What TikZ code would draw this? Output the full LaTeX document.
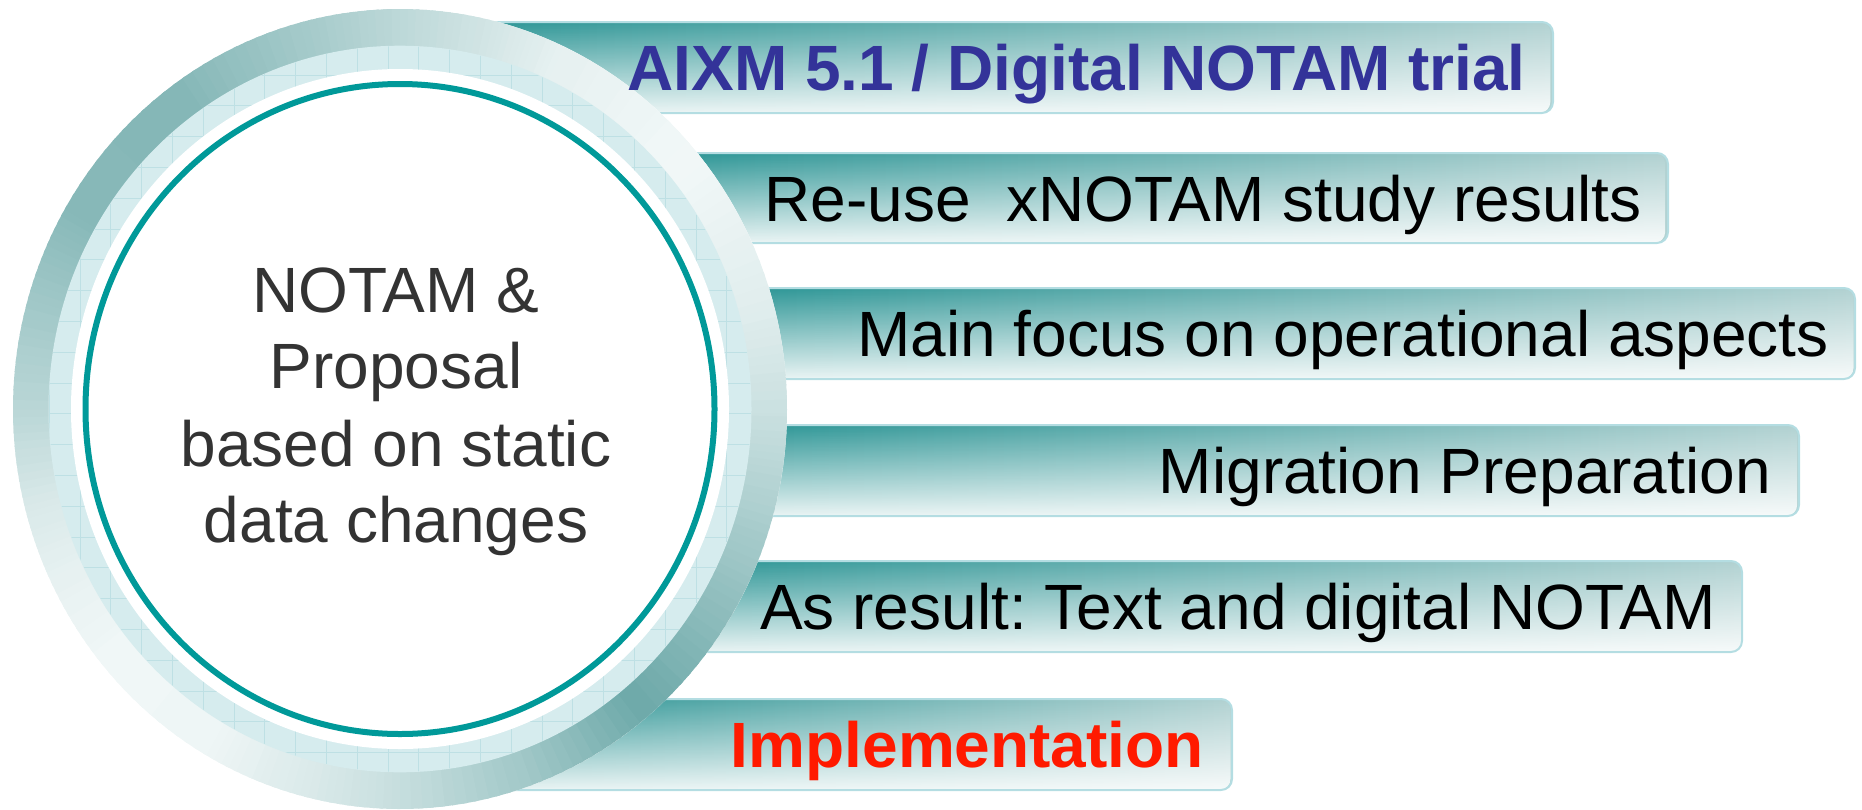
\documentclass[tikz,border=0pt]{standalone}
\usepackage{fontspec}
\setmainfont{Liberation Sans}
\usetikzlibrary{fadings}
\frenchspacing

\definecolor{ringdark}{RGB}{104,166,166}
\definecolor{ringlight}{RGB}{244,249,249}
\definecolor{bandcol}{RGB}{214,236,238}
\definecolor{gridcol}{RGB}{190,224,228}
\definecolor{tealline}{RGB}{0,153,153}
\definecolor{barL}{RGB}{45,150,150}
\definecolor{barR}{RGB}{178,210,210}
\definecolor{baredge}{RGB}{180,221,226}
\definecolor{navytext}{RGB}{51,51,153}
\definecolor{redtext}{RGB}{255,26,0}
\definecolor{greytext}{RGB}{51,51,51}

% one rounded label bar: left, top, right, bottom
\newcommand\pillbar[4]{%
  \fill[rounded corners=11pt, left color=barL, right color=barR] (#1,#2) rectangle (#3,#4);
  \fill[rounded corners=11pt, white, fill opacity=0.9, path fading=north] (#1,#2) rectangle (#3,#4);
  \draw[rounded corners=11pt, baredge, line width=2pt] (#1,#2) rectangle (#3,#4);
}

\begin{document}
\begin{tikzpicture}[x=1pt,y=-1pt,
  bartext/.style={anchor=base east, inner sep=0pt, font=\fontsize{64}{64}\selectfont},
  boldtext/.style={anchor=base east, inner sep=0pt, font=\fontsize{64}{64}\selectfont\bfseries},
  ctext/.style={anchor=base, inner sep=0pt, text=greytext, font=\fontsize{64}{64}\selectfont}]
\useasboundingbox (0,0) rectangle (1862,809);

% label bars (their left ends disappear behind the ring)
\pillbar{480}{22}{1553}{113}
\pillbar{680}{153}{1668}{243}
\pillbar{750}{288}{1855}{379}
\pillbar{750}{425}{1799}{516}
\pillbar{690}{561}{1742}{652}
\pillbar{500}{699}{1232}{790}

% disc underlay
\fill[white] (400,409) ellipse[x radius=387, y radius=400];

% metallic outer ring: tone keyed by angle, interpolated over small sectors
\begin{scope}[shift={(400,409)}]
\foreach \ta/\da/\tb/\db in {0/0.30/13/0.48, 13/0.48/29/0.70, 29/0.70/50/0.97,
    50/0.97/70/0.60, 70/0.60/90/0.33, 90/0.33/105/0.18, 105/0.18/120/0.05,
    120/0.05/140/0.03, 140/0.03/155/0.10, 155/0.10/166/0.20, 166/0.20/180/0.42,
    180/0.42/196/0.60, 196/0.60/210/0.78, 210/0.78/234/0.80, 234/0.80/255/0.58,
    255/0.58/270/0.40, 270/0.40/284/0.24, 284/0.24/295/0.10, 295/0.10/320/0.02,
    320/0.02/344/0.14, 344/0.14/360/0.30}{
  \foreach \k in {0,...,11}{
    \pgfmathsetmacro\sa{\ta+(\tb-\ta)*\k/12}
    \pgfmathsetmacro\sb{\ta+(\tb-\ta)*(\k+1)/12+0.6}
    \pgfmathtruncatemacro\d{100*(\da+(\db-\da)*(\k+0.5)/12)}
    \fill[ringdark!\d!ringlight] (\sa:387 and 400)
      arc[start angle=\sa, end angle=\sb, x radius=387, y radius=400]
      -- (\sb:351 and 362.8)
      arc[start angle=\sb, end angle=\sa, x radius=351, y radius=362.8] -- cycle;
  }
}
\end{scope}

% light gridded band
\fill[bandcol] (400,409) ellipse[x radius=351.5, y radius=363.3];
\begin{scope}
  \clip (400,409) ellipse[x radius=351, y radius=362.8];
  \foreach \k in {0,...,26}{
    \draw[gridcol, line width=0.8pt] (18.4+30.8*\k,0) -- ++(0,809);
    \draw[gridcol, line width=0.8pt] (0,13.4+30.8*\k) -- ++(800,0);
  }
\end{scope}

% inner disc and teal outline
\fill[white] (400,409) ellipse[x radius=329, y radius=340];
\draw[tealline, line width=6pt] (400,409) ellipse[x radius=314.5, y radius=325];

% centre text
\node[ctext] (c1) at (396,312) {NOTAM \&};
\node[ctext] (c2) at (396,388) {Proposal};
\node[ctext] (c3) at (396,466) {based on static};
\node[ctext] (c4) at (396,542) {data changes};

% bar labels
\node[boldtext, text=navytext] (t1) at (1526,90.5) {AIXM 5.1 / Digital NOTAM trial};
\node[bartext] (t2) at (1642,221) {Re-use\ \ xNOTAM study results};
\node[bartext] (t3) at (1829,356.5) {Main focus on operational aspects};
\node[bartext] (t4) at (1771,493.5) {Migration Preparation};
\node[bartext] (t5) at (1716,629.5) {As result: Text and digital NOTAM};
\node[boldtext, text=redtext] (t6) at (1204,767.5) {Implementation};
\end{tikzpicture}
\end{document}
